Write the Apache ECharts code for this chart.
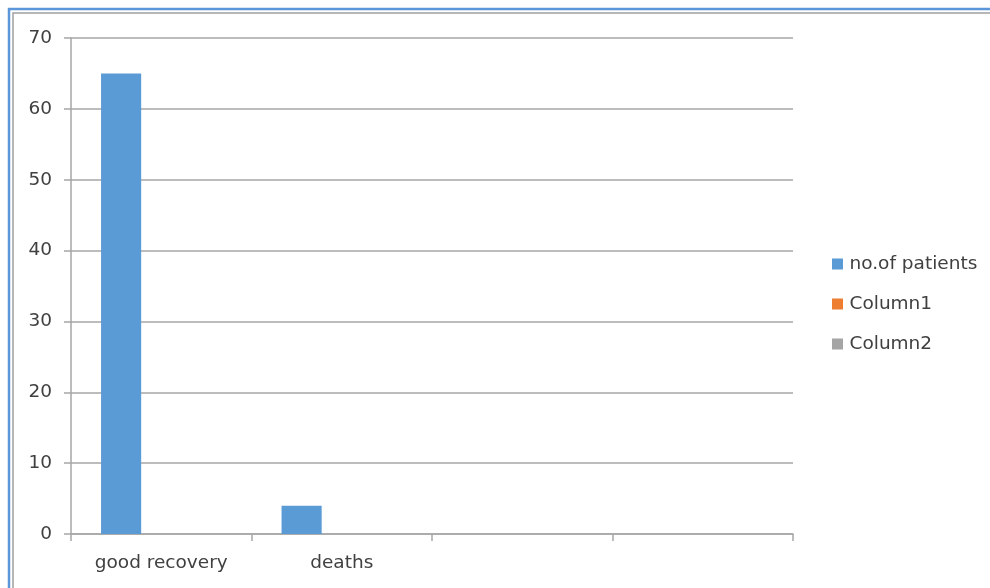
<!DOCTYPE html>
<html>
<head>
<meta charset="utf-8">
<script src="https://cdn.jsdelivr.net/npm/echarts@6/dist/echarts.min.js"></script>
<style>
  html, body { margin: 0; padding: 0; background: #fff; }
  #chart { width: 990px; height: 588px; }
</style>
</head>
<body>
<div id="chart"></div>
<script>
// 数据
var categories = ['good recovery', 'deaths', ' ', '  '];
var seriesNames = ['no.of patients', 'Column1', 'Column2'];
var patients = [65, 4, null, null];
var column1 = [null, null, null, null];
var column2 = [null, null, null, null];
var yTicks = [0, 10, 20, 30, 40, 50, 60, 70];

var colors = ['#5B9BD5', '#ED7D31', '#A5A5A5'];
var textColor = '#404040';
var lineColor = '#A6A6A6';
var fontFamily = 'DejaVu Sans';

var chart = echarts.init(document.getElementById('chart'));

function barSeries(name, data) {
    return {
        name: name,
        type: 'bar',
        data: data,
        barGap: '0%',
        barCategoryGap: '33.3%'
    };
}

var option = {
    animation: false,
    color: colors,
    textStyle: { fontFamily: fontFamily },
    // 外框
    graphic: [
        {
            type: 'rect',
            shape: { x: 9, y: 9, width: 1100, height: 1100 },
            style: { fill: 'none', stroke: '#5B95DA', lineWidth: 2.5 },
            silent: true
        },
        {
            type: 'rect',
            shape: { x: 13, y: 13, width: 1100, height: 1100 },
            style: { fill: 'none', stroke: '#A0A0A0', lineWidth: 1.5 },
            silent: true
        }
    ],
    grid: {
        left: 71,
        right: 197,
        top: 38,
        bottom: 54
    },
    legend: {
        orient: 'vertical',
        left: 827,
        top: 249,
        itemGap: 20,
        itemWidth: 14,
        itemHeight: 11,
        icon: 'path://M0,0H10V10H0Z',
        textStyle: {
            color: textColor,
            fontSize: 18.5,
            lineHeight: 20,
            fontFamily: fontFamily
        },
        data: seriesNames
    },
    xAxis: {
        type: 'category',
        data: categories,
        boundaryGap: true,
        axisLine: { lineStyle: { color: lineColor, width: 1.5 } },
        axisTick: { show: true, length: 7, alignWithLabel: false, interval: 0, lineStyle: { color: lineColor, width: 1.5 } },
        axisLabel: { color: textColor, fontSize: 18.5, margin: 20, interval: 0, fontFamily: fontFamily },
        splitLine: { show: false }
    },
    yAxis: {
        type: 'value',
        min: yTicks[0],
        max: yTicks[yTicks.length - 1],
        interval: 10,
        axisLine: { show: true, lineStyle: { color: lineColor, width: 1.5 } },
        axisTick: { show: true, length: 7, lineStyle: { color: lineColor, width: 1.5 } },
        axisLabel: { color: textColor, fontSize: 18.5, margin: 19, fontFamily: fontFamily },
        splitLine: { show: true, lineStyle: { color: lineColor, width: 1.5 } }
    },
    series: [
        barSeries(seriesNames[0], patients),
        barSeries(seriesNames[1], column1),
        barSeries(seriesNames[2], column2)
    ]
};

chart.setOption(option);
</script>
</body>
</html>
